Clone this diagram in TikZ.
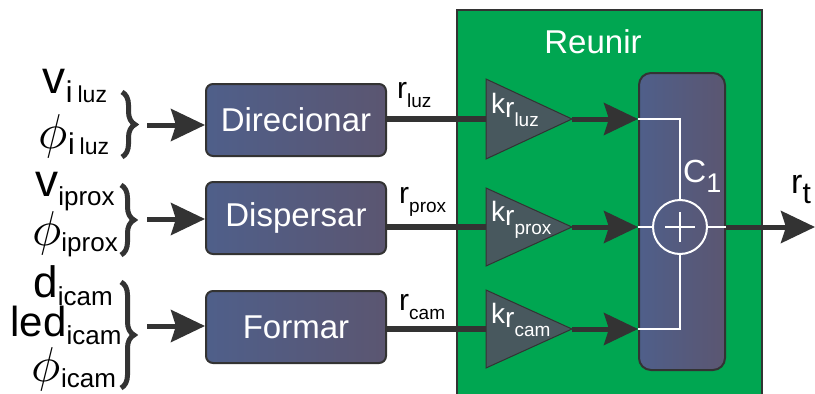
\documentclass[tikz,border=0pt]{standalone}
\usepackage{fontspec}
\setmainfont{Liberation Sans}
\usetikzlibrary{arrows.meta,decorations.pathreplacing,positioning}

\definecolor{reunirgreen}{RGB}{0,166,81}
\definecolor{blkleft}{RGB}{79,95,138}
\definecolor{blkright}{RGB}{91,86,113}
\definecolor{ampfill}{RGB}{72,88,94}
\definecolor{wiregray}{RGB}{51,51,51}

\newcommand{\sz}[1]{\fontsize{#1}{#1}\selectfont}
% lowered and resized text, for the subscripts
\newcommand{\lo}[3]{\raisebox{-#1}{\sz{#2}#3}}
% big italic phi
\newcommand{\bigphi}{{\sz{10}\scalebox{4.9}{$\phi$}}}

\tikzset{
  block/.style={draw=wiregray,line width=2pt,rounded corners=7pt,
    left color=blkleft,right color=blkright,text=white,
    minimum width=180pt,minimum height=72pt,font=\sz{33}},
  amp/.style={draw=wiregray,line width=1pt,fill=ampfill,line join=miter},
  wire/.style={draw=wiregray,line width=6pt},
  flow/.style={draw=wiregray,line width=5pt,
    -{Stealth[length=34pt,width=32pt,inset=5pt]}},
  brace/.style={draw=wiregray,line width=5pt,
    decorate,decoration={brace,amplitude=13pt}},
  whiteline/.style={draw=white,line width=2pt},
  lbl/.style={inner sep=0pt,anchor=base},
}

\begin{document}
\begin{tikzpicture}[x=1pt,y=-1pt]
\useasboundingbox (0,0) rectangle (815,394);

% Reunir stage
\fill[reunirgreen] (457,10) rectangle (762,400);
\draw[wiregray,line width=1.2pt] (457,400) |- (762,10) -- (762,400);
\node[text=white,font=\sz{33}] (reunir) at (593,42) {Reunir};

% inputs
\node[lbl] (v1) at (75,93) {\sz{46}v\lo{9pt}{30}{i\,\sz{23}luz}};
\node[lbl] (p1) at (74,148) {\bigphi\lo{6pt}{30}{i\,\sz{23}luz}};
\node[lbl] (v2) at (75,196) {\sz{46}v\lo{9pt}{26}{iprox}};
\node[lbl] (p2) at (75,245) {\bigphi\lo{6pt}{26}{iprox}};
\node[lbl] (d3) at (73,297) {\sz{44}d\lo{8pt}{26}{icam}};
\node[lbl] (l3) at (66,336) {\sz{42}led\lo{8pt}{26}{icam}};
\node[lbl] (p3) at (74,381) {\bigphi\lo{6pt}{26}{icam}};

\draw[brace] (122,92) -- (122,157);
\draw[brace] (121,185) -- (121,255);
\draw[brace] (121,282) -- (121,388);
\coordinate (b1) at (147,125);
\coordinate (b2) at (147,219);
\coordinate (b3) at (147,326);

% processing blocks
\node[block] (dir) at (296,120) {Direcionar};
\node[block] (disp) at (296,218) {Dispersar};
\node[block] (form) at (296,327) {Formar};

\draw[flow] (b1) -- (b1 -| dir.west);
\draw[flow] (b2) -- (b2 -| disp.west);
\draw[flow] (b3) -- (b3 -| form.west);

% gains
\coordinate (a1in) at (486,119);
\coordinate (a1out) at (572,119);
\coordinate (a2in) at (486,227);
\coordinate (a2out) at (572,227);
\coordinate (a3in) at (486,329);
\coordinate (a3out) at (572,329);

\draw[wire] (a1in -| dir.east) -- (a1in);
\draw[wire] (a2in -| disp.east) -- (a2in);
\draw[wire] (a3in -| form.east) -- (a3in);

\draw[amp] (486,79) -- (a1out) -- (486,159) -- cycle;
\draw[amp] (486,188) -- (a2out) -- (486,266) -- cycle;
\draw[amp] (486,290) -- (a3out) -- (486,368) -- cycle;

\node[lbl,anchor=base west,text=white] (k1) at (491,113) {\sz{28}k\lo{4pt}{28}{r\lo{9pt}{19}{luz}}};
\node[lbl,anchor=base west,text=white] (k2) at (491,221) {\sz{28}k\lo{4pt}{28}{r\lo{9pt}{19}{prox}}};
\node[lbl,anchor=base west,text=white] (k3) at (491,323) {\sz{28}k\lo{4pt}{28}{r\lo{9pt}{19}{cam}}};

\node[lbl,anchor=base west] (r1) at (397,98) {\sz{30}r\lo{9pt}{19}{luz}};
\node[lbl,anchor=base west] (r2) at (399,203) {\sz{30}r\lo{9pt}{19}{prox}};
\node[lbl,anchor=base west] (r3) at (399,310) {\sz{30}r\lo{9pt}{19}{cam}};

% combiner C1
\node[block,minimum width=86pt,minimum height=297pt,rounded corners=12pt] (sum) at (682,221.5) {};
\node[circle,whiteline,minimum size=54pt,inner sep=0pt] (add) at (680,227) {};
\draw[whiteline] ([xshift=-15pt]add.center) -- ([xshift=15pt]add.center);
\draw[whiteline] ([yshift=-15pt]add.center) -- ([yshift=15pt]add.center);
\draw[whiteline] (a1out -| sum.west) -| (add.north);
\draw[whiteline] (a3out -| sum.west) -| (add.south);
\draw[whiteline] (add.west -| sum.west) -- (add.west);
\draw[whiteline] (add.east) -- (add.east -| sum.east);
\node[lbl,anchor=base west,text=white] (c1) at (683,182) {\sz{32}C\lo{10pt}{27}{1}};

\draw[flow] (a1out) -- (a1out -| sum.west);
\draw[flow] (a2out) -- (a2out -| sum.west);
\draw[flow] (a3out) -- (a3out -| sum.west);

% output
\coordinate (out) at (815,227);
\draw[flow] (add.east -| sum.east) -- (out);
\node[lbl,anchor=base west] (rt) at (791,193) {\sz{34}r\lo{10pt}{30}{t}};
\end{tikzpicture}
\end{document}
